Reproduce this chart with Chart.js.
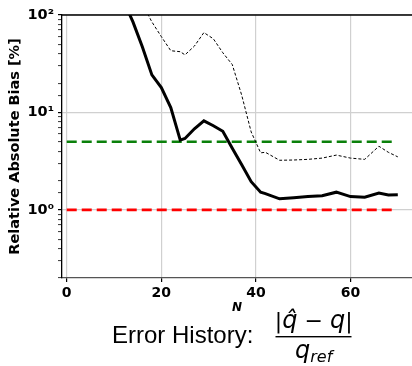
<!DOCTYPE html>
<html>
<head>
<meta charset="utf-8">
<script src="https://cdn.jsdelivr.net/npm/chart.js@4"></script>
<style>
	html, body { margin: 0; padding: 0; background: #fff; }
	canvas { display: block; }
</style>
</head>
<body>
<canvas id="bias" width="412" height="366"></canvas>
<script>

// sample sizes and relative absolute bias [%] per estimator
const sampleSizes = [ 10, 12, 14, 16, 18, 20, 22, 24, 25, 27, 29, 31, 33, 35, 37, 39, 41, 42, 45, 48, 51, 54, 57, 60, 63, 66, 68, 70 ];
const meanBias = [ 260, 140, 85, 47, 24.3, 18, 11.2, 5.2, 5.4, 6.8, 8.2, 7.3, 6.4, 4.3, 2.9, 1.95, 1.52, 1.47, 1.30, 1.33, 1.37, 1.40, 1.52, 1.37, 1.35, 1.49, 1.42, 1.43 ];
const upperBias = [ 500, 330, 190, 130, 85, 60, 43, 42, 39, 48, 66, 57, 41, 31, 15, 6.3, 3.85, 3.9, 3.23, 3.25, 3.3, 3.4, 3.65, 3.4, 3.3, 4.5, 3.9, 3.5 ];

// reference thresholds [%]
const thresholdRange = [ 0, 69 ];
const upperThreshold = [ 5, 5 ];
const lowerThreshold = [ 1, 1 ];

const points = ( xs, ys ) => xs.map( ( x, i ) => ( { x: x, y: ys[ i ] } ) );

const isDecade = v => Math.abs( Math.log10( v ) - Math.round( Math.log10( v ) ) ) < 1e-9;

const superscripts = { '-': '⁻', '0': '⁰', '1': '¹', '2': '²', '3': '³' };

const spines = {
	id: 'spines',
	afterDraw ( chart ) {

		const { ctx, chartArea } = chart;

		ctx.save();
		ctx.strokeStyle = '#000';
		ctx.lineWidth = 1.3;
		ctx.beginPath();
		ctx.moveTo( chartArea.left, chartArea.top );
		ctx.lineTo( chartArea.right, chartArea.top );
		ctx.stroke();
		ctx.restore();

	}
};

// caption:  Error History: |q̂ − q| / q_ref
const caption = {
	id: 'caption',
	afterDraw ( chart ) {

		const ctx = chart.ctx;
		const upright = '24px "Liberation Sans"';
		const slanted = 'italic 24px "DejaVu Sans"';

		ctx.save();
		ctx.fillStyle = '#000';
		ctx.textBaseline = 'alphabetic';
		ctx.textAlign = 'left';

		ctx.font = upright;
		ctx.fillText( 'Error History:', 112, 343 );

		// numerator
		const parts = [
			[ '|', '22px "DejaVu Sans"' ],
			[ 'q\u0302', slanted ],
			[ ' \u2212 ', '22px "DejaVu Sans"' ],
			[ 'q', slanted ],
			[ '|', '22px "DejaVu Sans"' ]
		];

		let width = 0;
		parts.forEach( p => { ctx.font = p[ 1 ]; width += ctx.measureText( p[ 0 ] ).width; } );

		const centre = 313.7;
		let x = centre - width / 2;

		parts.forEach( p => {

			ctx.font = p[ 1 ];
			ctx.fillText( p[ 0 ], x, 328 );
			x += ctx.measureText( p[ 0 ] ).width;

		} );

		// fraction bar
		ctx.fillRect( 275.5, 336, 76, 1.4 );

		// denominator
		ctx.font = slanted;
		const qWidth = ctx.measureText( 'q' ).width;
		ctx.font = 'italic 16px "DejaVu Sans"';
		const subWidth = ctx.measureText( 'ref' ).width;

		x = centre - ( qWidth + subWidth ) / 2;
		ctx.font = slanted;
		ctx.fillText( 'q', x, 358 );
		ctx.font = 'italic 16px "DejaVu Sans"';
		ctx.fillText( 'ref', x + qWidth, 362 );

		ctx.restore();

	}
};

const config = {
	type: 'line',
	data: {
		datasets: [
			{
				data: points( sampleSizes, upperBias ),
				borderColor: '#000',
				borderWidth: 1,
				borderDash: [ 3, 2 ],
				pointRadius: 0,
				tension: 0
			},
			{
				data: points( sampleSizes, meanBias ),
				borderColor: '#000',
				borderWidth: 3,
				pointRadius: 0,
				tension: 0
			},
			{
				data: points( thresholdRange, upperThreshold ),
				borderColor: '#0a800a',
				borderWidth: 2.6,
				borderDash: [ 10, 5 ],
				pointRadius: 0
			},
			{
				data: points( thresholdRange, lowerThreshold ),
				borderColor: '#ff0000',
				borderWidth: 2.6,
				borderDash: [ 10, 5 ],
				pointRadius: 0
			}
		]
	},
	options: {
		responsive: false,
		animation: false,
		devicePixelRatio: 1,
		layout: {
			padding: { top: 15, bottom: 50, left: 0, right: 0 }
		},
		plugins: {
			legend: { display: false },
			tooltip: { enabled: false }
		},
		scales: {
			x: {
				type: 'linear',
				min: -1,
				max: 73,
				afterFit: scale => { scale.height = 38; },
				ticks: {
					stepSize: 20,
					includeBounds: false,
					color: '#000',
					padding: 3,
					font: { family: 'DejaVu Sans', size: 14, weight: 'bold' }
				},
				grid: {
					color: '#d0d0d0',
					lineWidth: 1.2,
					tickLength: 4,
					tickColor: '#000',
					tickWidth: 1.2
				},
				border: { color: '#555', width: 1.3 },
				title: {
					display: true,
					text: 'N',
					color: '#000',
					padding: { top: 0, bottom: 1 },
					font: { family: 'DejaVu Sans', size: 12, weight: 'bold', style: 'italic' }
				}
			},
			y: {
				type: 'logarithmic',
				min: 0.2,
				max: 100,
				afterFit: scale => { scale.width = 62; },
				ticks: {
					autoSkip: false,
					color: '#000',
					padding: 4,
					font: { family: 'DejaVu Sans', size: 14.5, weight: 'bold' },
					callback: v => {
						if ( ! isDecade( v ) ) return '';
						const e = String( Math.round( Math.log10( v ) ) );
						return '10' + e.split( '' ).map( c => superscripts[ c ] ).join( '' );
					}
				},
				grid: {
					color: c => c.tick && isDecade( c.tick.value ) ? '#d0d0d0' : 'rgba(0,0,0,0)',
					lineWidth: 1.2,
					tickLength: 4,
					tickColor: '#000',
					tickWidth: c => c.tick && isDecade( c.tick.value ) ? 1.2 : 0.8
				},
				border: { color: '#000', width: 1.3 },
				title: {
					display: true,
					text: 'Relative Absolute Bias [%]',
					color: '#000',
					padding: { top: 7, bottom: 0 },
					font: { family: 'DejaVu Sans', size: 14.5, weight: 'bold' }
				}
			}
		}
	},
	plugins: [ spines, caption ]
};

new Chart( document.getElementById( 'bias' ), config );

</script>
</body>
</html>
